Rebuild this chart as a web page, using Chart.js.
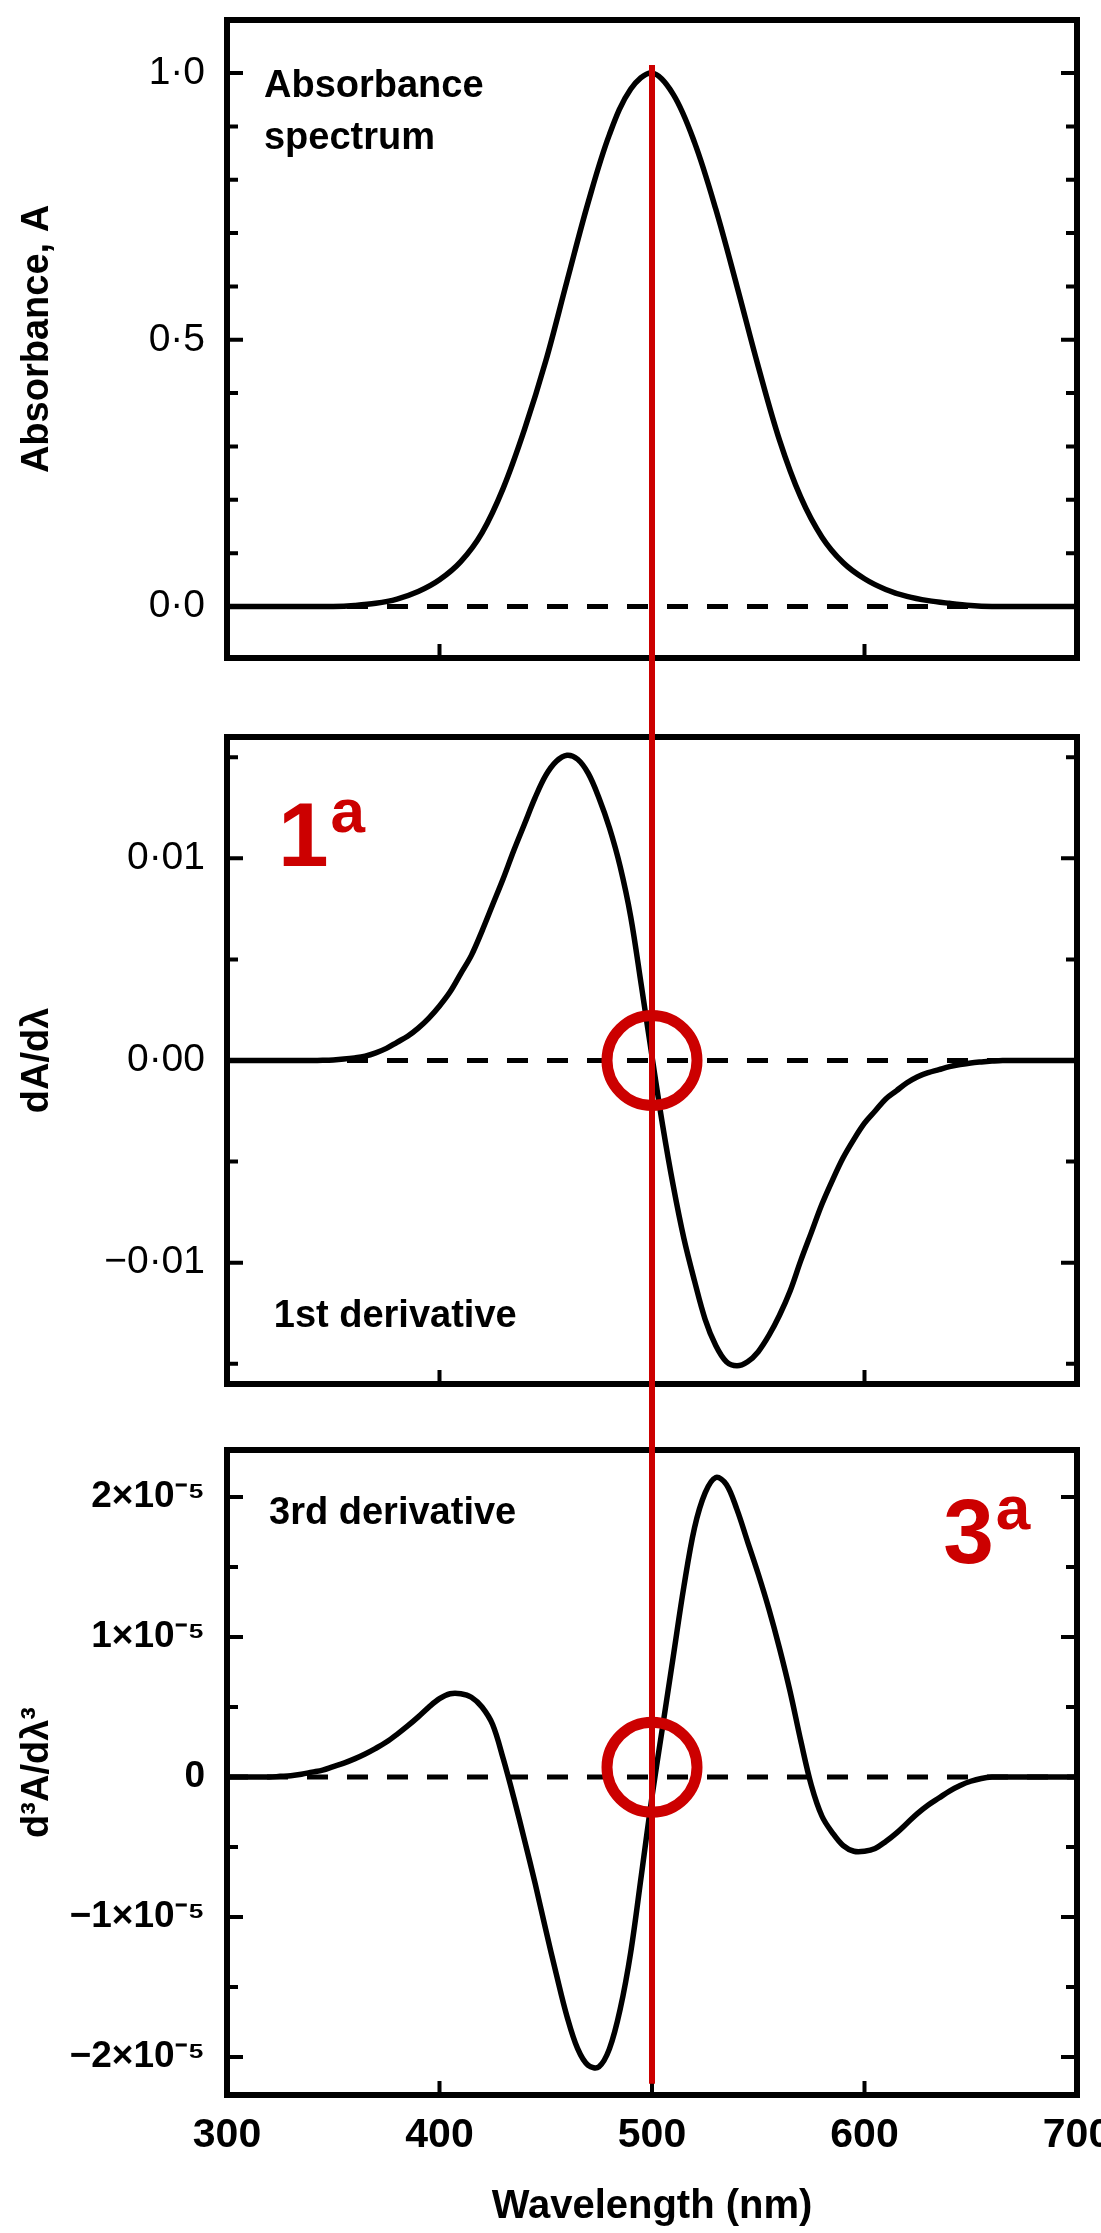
<!DOCTYPE html>
<html>
<head>
<meta charset="utf-8">
<script src="https://cdn.jsdelivr.net/npm/chart.js@4.4.1/dist/chart.umd.min.js"></script>
<style>
  html, body { margin: 0; padding: 0; background: #fff; }
  #wrap { position: relative; width: 1101px; height: 2233px; overflow: hidden; background: #fff; }
  canvas { position: absolute; left: 0; display: block; }
</style>
</head>
<body>
<div id="wrap">
  <canvas id="c1" width="1101" height="700" style="top:0px"></canvas>
  <canvas id="c2" width="1101" height="720" style="top:700px"></canvas>
  <canvas id="c3" width="1101" height="813" style="top:1420px"></canvas>
</div>
<script>
// ---------------- DATA ----------------
const xRange = [300, 700];
const xTickValues = [300, 400, 500, 600, 700];

// Absorbance spectrum
const wavelengthA = [300,310,320,330,340,350,360,370,380,390,400,410,420,430,440,450,460,470,480,490,500,
                     510,520,530,540,550,560,570,580,590,600,610,620,630,640,650,660,670,680,690,700];
const absorbance  = [0,0,0,0,0,0,0.002,0.006,0.014,0.028,0.05,0.084,0.138,0.222,0.332,0.46,0.61,0.758,0.885,0.97,1.0,
                     0.96,0.87,0.745,0.6,0.45,0.312,0.205,0.13,0.082,0.052,0.032,0.019,0.011,0.006,0.002,0,0,0,0,0];

// 5 nm grid used by the two derivative traces
const wavelength5 = [300,305,310,315,320,325,330,335,340,345,350,355,360,365,370,375,380,385,390,395,
                     400,405,410,415,420,425,430,435,440,445,450,455,460,465,470,475,480,485,490,495,
                     500,505,510,515,520,525,530,535,540,545,550,555,560,565,570,575,580,585,590,595,
                     600,605,610,615,620,625,630,635,640,645,650,655,660,665,670,675,680,685,690,695,700];

// 1st derivative dA/dλ
const firstDeriv = [0,0,0,0,0,0,0,0,0,0.00001,0.00003,0.00007,0.00013,0.00022,0.00038,0.0006,0.0009,0.0012,0.0016,0.0021,
                    0.0027,0.0034,0.0043,0.0052,0.0064,0.0077,0.009,0.0104,0.0117,0.013,0.0141,0.0148,0.0151,0.0149,0.0142,0.013,0.0115,0.0096,0.0071,0.0037,
                    0.0002,-0.0032,-0.0062,-0.0088,-0.0109,-0.0128,-0.0141,-0.0149,-0.0151,-0.0149,-0.0144,-0.0136,-0.0126,-0.0114,-0.0099,-0.0085,-0.0071,-0.0059,-0.0048,-0.0039,
                    -0.0031,-0.0025,-0.0019,-0.0015,-0.0011,-0.0008,-0.0006,-0.00045,-0.0003,-0.0002,-0.00012,-0.00007,-0.00003,0,0,0,0,0,0,0,0];

// 3rd derivative d3A/dλ3 (in units of 1e-5)
const thirdDeriv = [0,0,0,0,0,0.005,0.01,0.02,0.035,0.05,0.075,0.1,0.13,0.165,0.205,0.25,0.305,0.365,0.43,0.5,
                    0.56,0.595,0.595,0.57,0.5,0.375,0.13,-0.15,-0.45,-0.76,-1.09,-1.41,-1.71,-1.94,-2.06,-2.07,-1.94,-1.66,-1.25,-0.7,
                    -0.14,0.36,0.86,1.36,1.78,2.03,2.14,2.09,1.91,1.68,1.45,1.2,0.92,0.61,0.26,-0.06,-0.28,-0.4,-0.49,-0.53,
                    -0.53,-0.51,-0.46,-0.4,-0.33,-0.26,-0.2,-0.15,-0.1,-0.06,-0.03,-0.01,0,0,0,0,0,0,0,0,0];

// Tick labels
const absTickValues = [0, 0.5, 1.0];
const absTickLabels = ['0·0', '0·5', '1·0'];
const d1TickValues  = [-0.01, 0, 0.01];
const d1TickLabels  = ['\u22120·01', '0·00', '0·01'];
const d3TickValues  = [-2, -1, 0, 1, 2];
const d3TickLabels  = ['\u22122×10\u207B\u2075', '\u22121×10\u207B\u2075', '0', '1×10\u207B\u2075', '2×10\u207B\u2075'];

// Annotations (data coordinates)
const redLineX = 500;
const markerCircles = { d1: [500, 0], d3: [500, 0.07] };
const redLabels = { d1: ['1', 'a', 324, 0.0096], d3: ['3', 'a', 637, 1.53] };

// ---------------- FONTS ----------------
const FN = "'Liberation Sans', Arial, Helvetica, sans-serif";
Chart.defaults.font.family = FN;
Chart.defaults.color = '#000';

// ---------------- PLUGIN ----------------
const deco = {
  id: 'deco',
  afterDatasetsDraw(chart, args, o) {
    const { ctx, chartArea: a, scales: { x, y } } = chart;
    ctx.save();
    ctx.strokeStyle = '#000';
    ctx.lineWidth = 6;
    ctx.lineJoin = 'miter';
    ctx.strokeRect(a.left, a.top, a.right - a.left, a.bottom - a.top);
    ctx.lineWidth = 4;
    ctx.beginPath();
    y.ticks.forEach(t => {
      const py = y.getPixelForValue(t.value);
      const len = t.label ? 16 : 11;
      ctx.moveTo(a.left, py); ctx.lineTo(a.left + len, py);
      ctx.moveTo(a.right, py); ctx.lineTo(a.right - len, py);
    });
    xTickValues.forEach(v => {
      if (v <= x.min || v >= x.max) return;
      const px = x.getPixelForValue(v);
      ctx.moveTo(px, a.bottom); ctx.lineTo(px, a.bottom - 14);
    });
    ctx.stroke();
    ctx.fillStyle = '#000';
    ctx.textAlign = 'left';
    ctx.textBaseline = 'alphabetic';
    (o.notes || []).forEach(n => {
      ctx.font = `bold 38px ${FN}`;
      ctx.fillText(n[0], x.getPixelForValue(n[1]), y.getPixelForValue(n[2]));
    });
    ctx.restore();
  },
  afterDraw(chart, args, o) {
    const { ctx, scales: { x, y } } = chart;
    ctx.save();
    ctx.strokeStyle = '#CC0000';
    ctx.fillStyle = '#CC0000';
    const rx = x.getPixelForValue(redLineX);
    const y0 = o.redFrom == null ? 0 : y.getPixelForValue(o.redFrom);
    const y1 = o.redTo == null ? chart.height : y.getPixelForValue(o.redTo);
    ctx.lineWidth = 6;
    ctx.beginPath(); ctx.moveTo(rx, y0); ctx.lineTo(rx, y1); ctx.stroke();
    if (o.circle) {
      ctx.lineWidth = 11;
      ctx.beginPath();
      ctx.arc(x.getPixelForValue(o.circle[0]), y.getPixelForValue(o.circle[1]), 45, 0, Math.PI * 2);
      ctx.stroke();
    }
    if (o.mark) {
      const [big, sup, mx, my] = o.mark;
      const px = x.getPixelForValue(mx), py = y.getPixelForValue(my);
      ctx.textAlign = 'left'; ctx.textBaseline = 'alphabetic';
      ctx.font = `bold 91px ${FN}`;
      ctx.fillText(big, px, py);
      const w = ctx.measureText(big).width;
      ctx.font = `bold 62px ${FN}`;
      ctx.fillText(sup, px + w + 2, py - 34);
    }
    ctx.restore();
  }
};

function pts(xs, ys) { return xs.map((v, i) => ({ x: v, y: ys[i] })); }
function labelFor(vals, labs) {
  return v => { for (let i = 0; i < vals.length; i++) if (Math.abs(v - vals[i]) < 1e-9) return labs[i]; return ''; };
}

function makeChart(id, c) {
  const xScale = c.showX ? {
    type: 'linear', min: xRange[0], max: xRange[1], display: true,
    afterBuildTicks: s => { s.ticks = xTickValues.map(v => ({ value: v })); },
    ticks: { autoSkip: false, maxRotation: 0, padding: 16, color: '#000',
             font: { family: FN, size: 41, weight: 'bold' }, callback: v => String(v) },
    grid: { display: false, drawTicks: false }, border: { display: false },
    title: { display: true, text: 'Wavelength (nm)', color: '#000',
             font: { family: FN, size: 40, weight: 'bold' }, padding: { top: 0, bottom: 2 } },
    afterFit: s => { s.height = c.xHeight; s.paddingLeft = 0; s.paddingRight = 0; }
  } : { type: 'linear', min: xRange[0], max: xRange[1], display: false };

  return new Chart(document.getElementById(id), {
    type: 'line',
    data: {
      datasets: [
        { data: pts(c.xs, c.ys), borderColor: '#000', borderWidth: 5.5, pointRadius: 0,
          tension: 0.35, cubicInterpolationMode: 'default', fill: false, order: 0 },
        { data: pts(xRange, [0, 0]), borderColor: '#000', borderWidth: 5, borderDash: [21, 19],
          pointRadius: 0, fill: false, order: 1 }
      ]
    },
    options: {
      responsive: false, animation: false, devicePixelRatio: 1,
      layout: { padding: c.padding },
      plugins: { legend: { display: false }, tooltip: { enabled: false }, deco: c.deco },
      scales: {
        x: xScale,
        y: {
          type: 'linear', min: c.yMin, max: c.yMax,
          ticks: { stepSize: c.step, includeBounds: false, autoSkip: false, padding: 22, color: '#000',
                   font: { family: FN, size: c.tickSize, weight: c.tickWeight }, callback: c.cb },
          grid: { display: false, drawTicks: false }, border: { display: false },
          title: { display: true, text: c.yTitle, color: '#000',
                   font: { family: FN, size: 38, weight: 'bold' }, padding: { top: 15, bottom: 0 } },
          afterFit: s => { s.width = 227; s.paddingTop = 0; s.paddingBottom = 0; }
        }
      }
    },
    plugins: [deco]
  });
}

makeChart('c1', {
  xs: wavelengthA, ys: absorbance, showX: false,
  padding: { top: 20, right: 24, bottom: 42, left: 0 },
  yMin: -0.0965, yMax: 1.0994, step: 0.1, tickSize: 39, tickWeight: 'normal',
  cb: labelFor(absTickValues, absTickLabels), yTitle: 'Absorbance, A',
  deco: { notes: [['Absorbance', 317.4, 0.955], ['spectrum', 317.4, 0.857]], redFrom: 1.015, redTo: null }
});

makeChart('c2', {
  xs: wavelength5, ys: firstDeriv, showX: false,
  padding: { top: 37, right: 24, bottom: 36, left: 0 },
  yMin: -0.016, yMax: 0.016, step: 0.005, tickSize: 39, tickWeight: 'normal',
  cb: labelFor(d1TickValues, d1TickLabels), yTitle: 'dA/dλ',
  deco: { notes: [['1st derivative', 322, -0.0132]], redFrom: null, redTo: null,
          circle: markerCircles.d1, mark: redLabels.d1 }
});

makeChart('c3', {
  xs: wavelength5, ys: thirdDeriv, showX: true, xHeight: 138,
  padding: { top: 30, right: 24, bottom: 0, left: 0 },
  yMin: -2.271, yMax: 2.336, step: 0.5, tickSize: 37, tickWeight: 'bold',
  cb: labelFor(d3TickValues, d3TickLabels), yTitle: 'd³A/dλ³',
  deco: { notes: [['3rd derivative', 319.8, 1.81]], redFrom: null, redTo: -2.19,
          circle: markerCircles.d3, mark: redLabels.d3 }
});
</script>
</body>
</html>
